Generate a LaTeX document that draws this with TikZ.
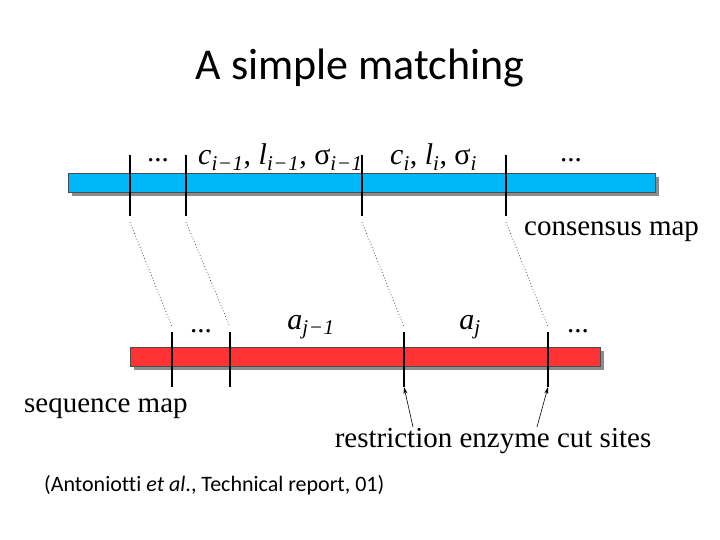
\documentclass[tikz,border=0pt]{standalone}
\usepackage{fontspec}
\setmainfont{Liberation Serif}
\newfontfamily\calib[Ligatures=NoCommon]{Carlito}
\usetikzlibrary{arrows.meta}
\definecolor{barblue}{RGB}{0,183,250}
\definecolor{barred}{RGB}{255,51,51}
\definecolor{shadowgray}{RGB}{140,140,140}
\newcommand\mns{\kern0.6bp−\kern0.6bp}
\tikzset{
  lbl/.style={inner sep=0pt, font=\fontsize{29bp}{34bp}\selectfont},
  mlbl/.style={inner sep=0pt, font=\fontsize{30bp}{35bp}\selectfont},
  tick/.style={line width=2.6bp, black},
  bar/.style={draw=black!70, line width=0.6bp},
  shadowbox/.style={fill=shadowgray},
  dotline/.style={dash pattern=on 0.8bp off 2.2bp, line width=0.7bp, black!75},
  cutarrow/.style={-{Stealth[length=7bp,width=4bp]}, line width=0.6bp, black},
}
\begin{document}
\begin{tikzpicture}[x=1bp,y=-1bp]
\useasboundingbox (0,0) rectangle (720,540);
% title
\node[inner sep=0pt, font=\calib\fontsize{44bp}{50bp}\selectfont] (title) at (360,68) {A simple matching};
% consensus map (blue bar)
\fill[shadowbox] (72,177) rectangle (659,196);
\draw[bar, fill=barblue] (68,173) rectangle (655,192);
% sequence map (red bar)
\fill[shadowbox] (134,351) rectangle (604,370);
\draw[bar, fill=barred] (130,347) rectangle (600,366);
% tick coordinates, consensus
\foreach \n/\x in {1/130,2/186,3/362,4/506}{
  \coordinate (ct\n) at (\x,155);
  \coordinate (cb\n) at (\x,216);
  \coordinate (cd\n) at (\x,222);
}
% tick coordinates, sequence
\foreach \n/\x in {1/172,2/230,3/404,4/548}{
  \coordinate (st\n) at (\x,332);
  \coordinate (sb\n) at (\x,387);
  \coordinate (sd\n) at (\x,327);
}
\foreach \n in {1,2,3,4}{
  \draw[tick] (ct\n) -- (cb\n);
  \draw[tick] (st\n) -- (sb\n);
  \draw[dotline] (cd\n) -- (sd\n);
}
% labels consensus
\node[lbl] (cdots1) at (158,160) {...};
\node[mlbl, anchor=west] (cprev) at (198,157) {\textit{c}\textsubscript{\textit{i\mns1}}, \textit{l}\textsubscript{\textit{i\mns1}}, σ\textsubscript{\textit{i\mns1}}};
\node[mlbl, anchor=west] (ccur) at (390,157) {\textit{c}\textsubscript{\textit{i}}, \textit{l}\textsubscript{\textit{i}}, σ\textsubscript{\textit{i}}};
\node[lbl] (cdots2) at (571,160) {...};
\node[lbl, anchor=west] (cmap) at (524,232) {consensus map};
% labels sequence
\node[lbl] (sdots1) at (201,331) {...};
\node[mlbl] (aprev) at (311,327) {\textit{a}\textsubscript{\textit{j\mns1}}};
\node[mlbl] (acur) at (470,327) {\textit{a}\textsubscript{\textit{j}}};
\node[lbl] (sdots2) at (578,331) {...};
\node[lbl, anchor=west] (smap) at (24,409) {sequence map};
\node[lbl] (cuts) at (493,441) {restriction enzyme cut sites};
\coordinate (a1) at (413,427);
\coordinate (a2) at (537,427);
\draw[cutarrow] (a1) -- (sb3);
\draw[cutarrow] (a2) -- (sb4);
% citation
\node[inner sep=0pt, anchor=west, font=\calib\fontsize{22bp}{26bp}\selectfont] (cite) at (44,485) {(Antoniotti \textit{et al}., Technical report, 01)};
\end{tikzpicture}
\end{document}
